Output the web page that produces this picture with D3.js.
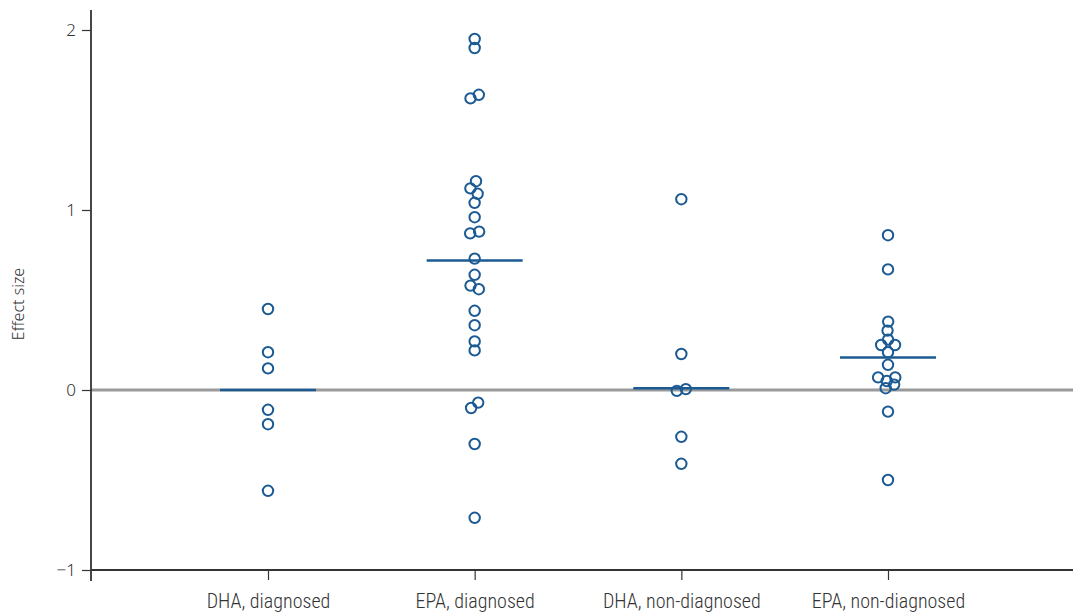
<!DOCTYPE html>
<meta charset="utf-8">
<style>
body { margin: 0; background: #fff; }
.axis text { font-family: "Liberation Sans Narrow", "Roboto Condensed", "Noto Sans", sans-serif; fill: #333; font-weight: 300; }
.axis.yax text { font-family: "Noto Sans", "DejaVu Sans", sans-serif; fill: #333; font-weight: 300; }
.axis line, .axis path { stroke: #333; }
.dot { fill: none; stroke: #1b5a93; stroke-width: 2; }
.pooled { stroke: #1b5a93; stroke-width: 2.5; }
.zero { stroke: #9a9a9a; stroke-width: 3; }
</style>
<body>
<div id="chart"></div>
<script src="https://cdn.jsdelivr.net/npm/d3@7"></script>
<script>
// categories on the x axis
var groups = ["DHA, diagnosed", "EPA, diagnosed", "DHA, non-diagnosed", "EPA, non-diagnosed"];

// effect sizes of each study, one array per group
var dhaDiagnosed = [0.45, 0.21, 0.12, -0.11, -0.19, -0.56];
var epaDiagnosed = [1.95, 1.90, 1.62, 1.64, 1.16, 1.12, 1.09, 1.04, 0.96, 0.88, 0.87, 0.73,
                    0.64, 0.58, 0.56, 0.44, 0.36, 0.27, 0.22, -0.07, -0.10, -0.30, -0.71];
var dhaNonDiagnosed = [1.06, 0.20, 0.005, -0.005, -0.26, -0.41];
var epaNonDiagnosed = [0.86, 0.67, 0.38, 0.33, 0.28, 0.25, 0.25, 0.21, 0.14, 0.07, 0.07,
                       0.05, 0.03, 0.01, -0.12, -0.50];

// pooled effect (horizontal bar) per group
var pooled = [0.0, 0.72, 0.01, 0.18];

var yTicks = [-1, 0, 1, 2];

var width = 1073, height = 615;
var left = 91, right = 1073;

var svg = d3.select("#chart").append("svg")
    .attr("width", width)
    .attr("height", height);

var x = d3.scalePoint()
    .domain(groups)
    .range([268, 888]);

var y = d3.scaleLinear()
    .domain([-1, 2])
    .range([570, 30]);

// zero reference line
svg.append("line")
    .attr("class", "zero")
    .attr("x1", left).attr("x2", right)
    .attr("y1", y(0)).attr("y2", y(0));

// y axis
var yAxis = svg.append("g")
    .attr("class", "axis yax")
    .attr("transform", "translate(" + left + ",0)")
    .call(d3.axisLeft(y).tickValues(yTicks).tickSize(9).tickPadding(6)
        .tickFormat(function(d) { return d < 0 ? "\u2212" + Math.abs(d) : d; }));
yAxis.select(".domain").remove();
yAxis.selectAll("text").style("font-size", "17px");
yAxis.selectAll("line").attr("stroke-width", 1.2);
svg.append("line")
    .attr("x1", left).attr("x2", left)
    .attr("y1", 10).attr("y2", 581)
    .attr("stroke", "#333").attr("stroke-width", 1.8);

// x axis
var xAxis = svg.append("g")
    .attr("class", "axis")
    .attr("transform", "translate(0," + y(-1) + ")")
    .call(d3.axisBottom(x).tickSize(10).tickPadding(14));
xAxis.select(".domain").remove();
xAxis.selectAll("text").style("font-size", "20px");
xAxis.selectAll("line").attr("stroke-width", 1.2);
svg.append("line")
    .attr("x1", left).attr("x2", right)
    .attr("y1", y(-1)).attr("y2", y(-1))
    .attr("stroke", "#333").attr("stroke-width", 1.8);

// "Effect size" label
svg.append("text")
    .attr("transform", "translate(24," + 304 + ") rotate(-90)")
    .attr("text-anchor", "middle")
    .style("font-family", "\"Noto Sans\", \"DejaVu Sans\", sans-serif")
    .style("font-size", "16px")
    .style("font-weight", 300)
    .style("fill", "#333")
    .text("Effect size");

// pooled bars
svg.selectAll(".pooled")
    .data(pooled)
  .enter().append("line")
    .attr("class", "pooled")
    .attr("x1", function(d, i) { return x(groups[i]) - 48; })
    .attr("x2", function(d, i) { return x(groups[i]) + 48; })
    .attr("y1", function(d) { return y(d); })
    .attr("y2", function(d) { return y(d); });

// study points, spread sideways by a small collision layout
var series = [dhaDiagnosed, epaDiagnosed, dhaNonDiagnosed, epaNonDiagnosed];
var nodes = [];
series.forEach(function(vals, i) {
  vals.forEach(function(v) {
    nodes.push({ group: groups[i], value: v, x: x(groups[i]), y: y(v) });
  });
});

var sim = d3.forceSimulation(nodes)
    .force("x", d3.forceX(function(d) { return x(d.group); }).strength(0.08))
    .force("y", d3.forceY(function(d) { return y(d.value); }).strength(1))
    .force("collide", d3.forceCollide(4.6))
    .stop();
for (var t = 0; t < 300; t++) sim.tick();

svg.selectAll(".dot")
    .data(nodes)
  .enter().append("circle")
    .attr("class", "dot")
    .attr("cx", function(d) { return d.x; })
    .attr("cy", function(d) { return y(d.value); })
    .attr("r", 5.2);
</script>
</body>
